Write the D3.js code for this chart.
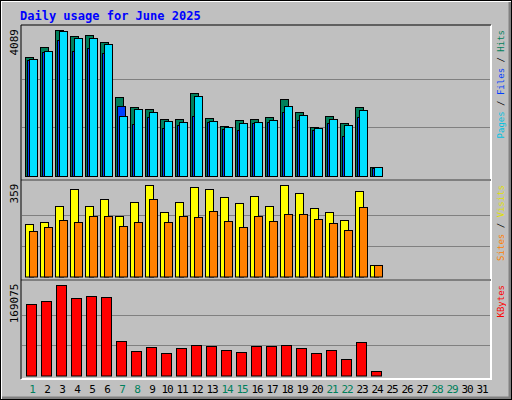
<!DOCTYPE html>
<html><head><meta charset="utf-8">
<script src="https://cdn.jsdelivr.net/npm/d3@7"></script>
<style>body{margin:0;background:#fff}</style>
</head><body>
<script>
const days = d3.range(1, 32)
const weekend = [1, 7, 8, 14, 15, 21, 22, 28, 29]
const hits  = [3325,3604,4089,3912,3949,3744,2204,1924,1868,1588,1588,2316,1616,1392,1560,1588,1644,2148,1784,1364,1672,1476,1924,244]
const files = [3260,3480,3808,3501,3576,3436,1952,1456,1660,1336,1428,1680,1520,1308,1288,1476,1500,1784,1560,1280,1476,1120,1644,230]
const pages = [3285,3501,4061,3856,3856,3688,1672,1868,1784,1532,1504,2232,1532,1364,1476,1504,1560,1952,1700,1336,1588,1420,1840,244]
const visits = [204,211,277,343,277,301,235,289,359,250,289,351,340,312,285,316,277,359,324,266,250,219,332,44]
const sites  = [178,192,219,211,238,238,196,211,301,211,235,231,254,215,192,238,215,242,242,223,207,180,270,44]
const kbytes = [132100,137600,169075,143200,146900,145000,63600,45100,52500,41400,50700,56200,54400,47000,43300,54400,54400,56200,50700,41400,47000,30300,61800,8100]
const maxHits = 4089, maxVisits = 359, maxKB = 169075

const W = 512, H = 400
const font = "'DejaVu Sans Mono', monospace"
const svg = d3.select('body').append('svg').attr('width', W).attr('height', H)

// frame
svg.append('rect').attr('width', W).attr('height', H).attr('fill', '#c0c0c0')
svg.append('path').attr('d', `M1,${H-1}V1H${W-1}`).attr('stroke', '#fff').attr('stroke-width', 2).attr('fill', 'none')
svg.append('path').attr('d', `M${W-2},2V${H-2}H2`).attr('stroke', '#808080').attr('stroke-width', 3).attr('fill', 'none')
svg.append('rect').attr('x', 0.5).attr('y', 0.5).attr('width', W-1).attr('height', H-1).attr('fill', 'none').attr('stroke', '#000')

svg.append('text').attr('x', 20).attr('y', 20).attr('fill', '#0000ff')
    .style('font', `bold 12px ${font}`).text('Daily usage for June 2025')

const x = d3.scaleLinear().domain([1, 31]).range([25, 475])

function panel(top, bottom, base, ymax, max, label, legend) {
    svg.append('path').attr('d', `M21,${bottom}H491V${top}`).attr('stroke', '#fff').attr('stroke-width', 2).attr('fill', 'none')
    svg.append('path').attr('d', `M21,${bottom}V${top}H491`).attr('stroke', '#000').attr('fill', 'none')
    const y = d3.scaleLinear().domain([0, max]).range([base, ymax])
    ;[1/3, 2/3].forEach(f => {
        svg.append('line').attr('x1', 22).attr('x2', 490).attr('y1', Math.round(y(max*f))+0.5).attr('y2', Math.round(y(max*f))+0.5)
            .attr('stroke', '#808080')
    })
    svg.append('text').attr('transform', `translate(18,${ymax-1}) rotate(-90)`).attr('text-anchor', 'end')
        .style('font', `11px ${font}`).text(label)
    const t = svg.append('text').attr('transform', `translate(504,${top+5}) rotate(-90)`).attr('text-anchor', 'end')
        .style('font', `9px ${font}`)
    legend.forEach((l, i) => {
        if (i) t.append('tspan').attr('fill', '#000').text(' / ')
        t.append('tspan').attr('fill', l[1]).text(l[0])
    })
    return y
}

function bars(y, data, dx, w, color) {
    svg.append('g').selectAll('rect').data(data).join('rect')
        .attr('x', (d, i) => x(i + 1) + dx + 0.5)
        .attr('y', d => Math.round(y(d)) + 0.5)
        .attr('width', w)
        .attr('height', d => y(0) - Math.round(y(d)))
        .attr('fill', color).attr('stroke', '#000')
}

const y1 = panel(25, 180, 176, 30, maxHits, '4089', [['Pages', '#00c0e0'], ['Files', '#0040ff'], ['Hits', '#00805c']])
bars(y1, hits, 0, 8, '#00805c')
bars(y1, files, 2, 8, '#0040ff')
bars(y1, pages, 4, 8, '#00e0ff')

const y2 = panel(180, 280, 276.5, 184.5, maxVisits, '359', [['Sites', '#ff8000'], ['Visits', '#e0e000']])
bars(y2, visits, 0, 8, '#ffff00')
bars(y2, sites, 4, 8, '#ff8000')

const y3 = panel(280, 379, 375.5, 284.5, maxKB, '169075', [['KBytes', '#ff0000']])
bars(y3, kbytes, 1, 10, '#ff0000')

svg.append('g').selectAll('text').data(days).join('text')
    .attr('x', d => x(d) + 7).attr('y', 393).attr('text-anchor', 'middle')
    .attr('fill', d => weekend.includes(d) ? '#00805c' : '#000')
    .style('font', `11px ${font}`).style('letter-spacing', '-1px').text(d => d)
</script>
</body></html>
